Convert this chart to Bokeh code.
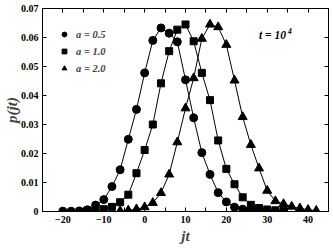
from bokeh.plotting import figure
from bokeh.models import (Range1d, FixedTicker, CustomJSTickFormatter, LinearAxis,
                          Legend, LegendItem, Label)
from bokeh.embed import file_html
from bokeh.resources import INLINE

# ---- data ----
jt_a05 = [-20, -18, -16, -14, -12, -10, -8, -6, -4, -2, 0, 2, 4, 6, 8, 10, 12, 14,
          16, 18, 20, 22, 24, 26, 28, 30, 32]
p_a05 = [0.0001, 0.0001, 0.0002, 0.0006, 0.0022, 0.0041, 0.0086, 0.0144, 0.0249,
         0.0352, 0.0478, 0.0590, 0.0633, 0.0615, 0.0585, 0.0454, 0.0323, 0.0203,
         0.0128, 0.0065, 0.0033, 0.0015, 0.0008, 0.0004, 0.0002, 0.0001, 0.0001]

jt_a10 = [-14, -12, -10, -8, -6, -4, -2, 0, 2, 4, 6, 8, 10, 12, 14, 16, 18, 20,
          22, 24, 26, 28, 30, 32, 34]
p_a10 = [0.0003, 0.0005, 0.0008, 0.0016, 0.0032, 0.0058, 0.0132, 0.0212, 0.0300,
         0.0442, 0.0553, 0.0627, 0.0645, 0.0587, 0.0478, 0.0384, 0.0245, 0.0147,
         0.0094, 0.0049, 0.0023, 0.0012, 0.0007, 0.0004, 0.0002]

jt_a20 = [-6, -4, -2, 0, 2, 4, 6, 8, 10, 12, 14, 16, 18, 20, 22, 24, 26, 28, 30,
          32, 34, 36, 38, 40, 42]
p_a20 = [0.0002, 0.0004, 0.0008, 0.0015, 0.0030, 0.0064, 0.0128, 0.0239, 0.0356,
         0.0460, 0.0596, 0.0645, 0.0636, 0.0575, 0.0452, 0.0326, 0.0230, 0.0149,
         0.0072, 0.0036, 0.0026, 0.0017, 0.0011, 0.0006, 0.0003]

series_labels = ["a = 0.5", "a = 1.0", "a = 2.0"]
x_major = [-20, -10, 0, 10, 20, 30, 40]
x_minor = [-25, -15, -5, 5, 15, 25, 35, 45]
y_major = [0, 0.01, 0.02, 0.03, 0.04, 0.05, 0.06, 0.07]

FONT = "Liberation Serif"

p = figure(width=333, height=249, x_range=Range1d(-25, 45), y_range=Range1d(0, 0.07),
           output_backend="svg", toolbar_location=None,
           min_border_left=41, min_border_right=5, min_border_top=8, min_border_bottom=38)
p.xgrid.visible = False
p.ygrid.visible = False
p.outline_line_color = "black"
p.outline_line_width = 1
p.background_fill_color = "white"
p.border_fill_color = "white"

xticker = FixedTicker(ticks=x_major, minor_ticks=x_minor)
yticker = FixedTicker(ticks=y_major)
yfmt = CustomJSTickFormatter(code="return tick == 0 ? '0' : tick.toFixed(2);")
blank = CustomJSTickFormatter(code="return '';")


def style_axis(ax, labels=True):
    ax.axis_line_color = "black"
    ax.major_tick_in = 4
    ax.major_tick_out = 0
    ax.minor_tick_in = 4
    ax.minor_tick_out = 0
    ax.major_tick_line_color = "black"
    ax.minor_tick_line_color = "black"
    ax.major_label_text_font = FONT
    ax.major_label_text_font_style = "bold"
    ax.major_label_text_color = "black"
    ax.axis_label_standoff = 0
    if labels:
        ax.major_label_text_font_size = "10px"
        ax.major_label_standoff = 4
    else:
        ax.formatter = blank
        ax.major_label_text_font_size = "1px"
        ax.major_label_standoff = 0


xa = p.xaxis[0]
xa.ticker = xticker
style_axis(xa)
xa.axis_label = "jt"
xa.axis_label_text_font = FONT
xa.axis_label_text_font_style = "bold italic"
xa.axis_label_text_font_size = "15px"
xa.axis_label_standoff = 2

ya = p.yaxis[0]
ya.ticker = yticker
ya.formatter = yfmt
style_axis(ya)
ya.minor_tick_line_color = None
ya.axis_label = "p(jt)"
ya.axis_label_text_font = FONT
ya.axis_label_text_font_style = "bold italic"
ya.axis_label_text_font_size = "15px"
ya.axis_label_standoff = -2

top = LinearAxis(ticker=xticker)
style_axis(top, labels=False)
p.add_layout(top, "above")
right = LinearAxis(ticker=yticker)
style_axis(right, labels=False)
right.minor_tick_line_color = None
p.add_layout(right, "right")

# curves through points
for xs, ys in [(jt_a05, p_a05), (jt_a10, p_a10), (jt_a20, p_a20)]:
    p.line(xs, ys, line_color="black", line_width=1)

r1 = p.scatter(jt_a05, p_a05, marker="circle", size=8, fill_color="black", line_color="black")
r2 = p.scatter(jt_a10, p_a10, marker="square", size=7, fill_color="black", line_color="black")
r3 = p.scatter(jt_a20, p_a20, marker="triangle", size=9, fill_color="black", line_color="black")

legend = Legend(items=[LegendItem(label=series_labels[0], renderers=[r1]),
                       LegendItem(label=series_labels[1], renderers=[r2]),
                       LegendItem(label=series_labels[2], renderers=[r3])],
                location=(16, 135), padding=0, margin=0, spacing=1,
                glyph_width=12, glyph_height=16, label_height=16, label_standoff=6,
                border_line_color=None, background_fill_alpha=0,
                label_text_font=FONT, label_text_font_style="bold italic",
                label_text_font_size="10.5px")
p.add_layout(legend, "center")

p.add_layout(Label(x=28.0, y=0.0610, text="t = 10", text_font=FONT,
                   text_font_style="bold italic", text_font_size="11.5px",
                   text_baseline="middle", text_color="black"))
p.add_layout(Label(x=28.0, y=0.0610, x_offset=29, y_offset=4, text="4", text_font=FONT,
                   text_font_style="bold italic", text_font_size="7.5px",
                   text_baseline="middle", text_color="black"))

open("out.html", "w").write(file_html(p, INLINE))
